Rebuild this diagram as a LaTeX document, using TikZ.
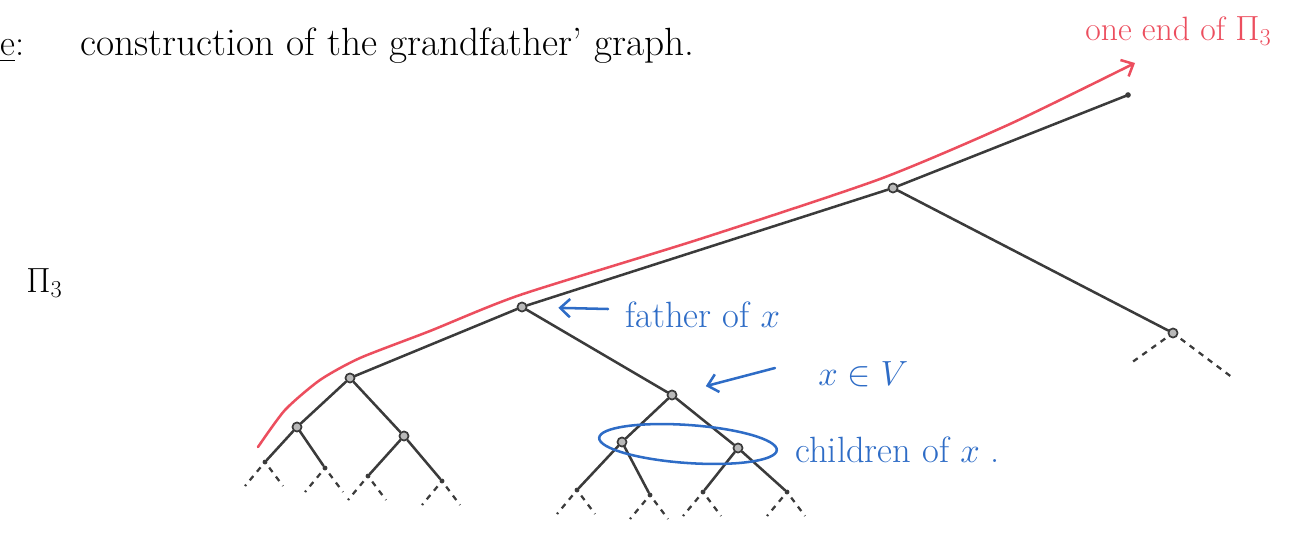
\documentclass[tikz,border=0pt]{standalone}
\usepackage{amsmath,amssymb}
\usetikzlibrary{arrows.meta, shapes.geometric}
\definecolor{inkgray}{HTML}{3B3B3B}
\definecolor{inkred}{HTML}{EC4E5E}
\definecolor{inkblue}{HTML}{2E6CC6}

\tikzset{
  vtx/.style={circle, draw=inkgray, fill=gray!55, line width=1.2pt, inner sep=0pt, minimum size=6.5pt},
  leaf/.style={circle, fill=inkgray, inner sep=0pt, minimum size=3.5pt},
  branch/.style={draw=inkgray, line width=1.8pt, line cap=round},
  stub/.style={draw=inkgray, line width=1.6pt, dash pattern=on 4pt off 4pt, shorten <=3pt},
  endline/.style={draw=inkred, line width=1.8pt, line cap=round},
  note/.style={draw=inkblue, line width=1.8pt, line cap=round},
  hand/.style={font=\fontsize{26}{30}\selectfont, inner sep=0pt, anchor=base west}
}

\begin{document}
\begin{tikzpicture}[x=0.025cm, y=-0.025cm, >={Straight Barb[length=7pt, width=13pt]}]

% Frame
\useasboundingbox (0,0) rectangle (1296,539);

% Title
\node[hand] (hdr) at (0,55) {\underline{e}:};
\node[hand, font=\fontsize{28}{32}\selectfont] (title) at (80,55) {construction of the grandfather' graph.};

% Labels
\node[hand, text=inkred, font=\fontsize{24}{28}\selectfont] (endlbl) at (1085,40) {one end of $\Pi_3$};
\node[hand] (pilbl) at (26,292) {$\Pi_3$};

% Tree vertices
\coordinate (top) at (1128,95);
\node[vtx] (A) at (893,188) {};
\node[vtx] (F) at (522,307) {};
\node[vtx] (C) at (350,378) {};
\node[vtx] (X) at (672,395) {};
\node[vtx] (R) at (1173,333) {};
\node[vtx] (C1) at (297,427) {};
\node[vtx] (C2) at (404,436) {};
\node[vtx] (X1) at (622,442) {};
\node[vtx] (X2) at (738,448) {};

% Leaves
\foreach \n/\x/\y in {l1/265/462, l2/325/468, l3/368/476, l4/442/481,
                      l5/577/490, l6/650/495, l7/703/492, l8/787/492} {
  \node[leaf] (\n) at (\x,\y) {};
}

% Branches
\draw[branch] (top) -- (A) -- (F) -- (C);
\draw[branch] (A) -- (R);
\draw[branch] (F) -- (X);
\draw[branch] (C) -- (C1);
\draw[branch] (C) -- (C2);
\draw[branch] (C1) -- (l1);
\draw[branch] (C1) -- (l2);
\draw[branch] (C2) -- (l3);
\draw[branch] (C2) -- (l4);
\draw[branch] (X) -- (X1);
\draw[branch] (X) -- (X2);
\draw[branch] (X1) -- (l5);
\draw[branch] (X1) -- (l6);
\draw[branch] (X2) -- (l7);
\draw[branch] (X2) -- (l8);
\fill[inkgray] (top) circle (2pt);

% Tree goes on below
\foreach \n in {l1,l2,l3,l4,l5,l6,l7,l8} {
  \draw[stub] (\n) -- ++(-20,24);
  \draw[stub] (\n) -- ++(18,24);
}
\draw[stub] (R) -- ++(-42,30);
\draw[stub] (R) -- ++(60,45);

% One end of Pi_3
\draw[endline, ->] plot[smooth, tension=0.4] coordinates
  {(258,447) (285,410) (320,380) (360,358) (430,331) (520,295) (700,239) (880,179) (1010,124) (1135,63)};

% Children of x
\node[ellipse, draw=inkblue, line width=1.8pt, rotate=-4,
      minimum width=4.45cm, minimum height=0.95cm] (kids) at (688,444) {};

% Blue notes
\node[hand, text=inkblue] (fatherlbl) at (625,327) {father of $x$};
\node[hand, text=inkblue] (xlbl) at (818,385) {$x \in V$};
\node[hand, text=inkblue] (kidslbl) at (795,462) {children of $x$ .};
\coordinate (ftail) at (608,309);
\coordinate (xtail) at (775,368);
\draw[note, ->, shorten >=22pt] (ftail) -- (F);
\draw[note, ->, shorten >=21pt] (xtail) -- (X);

\end{tikzpicture}
\end{document}
